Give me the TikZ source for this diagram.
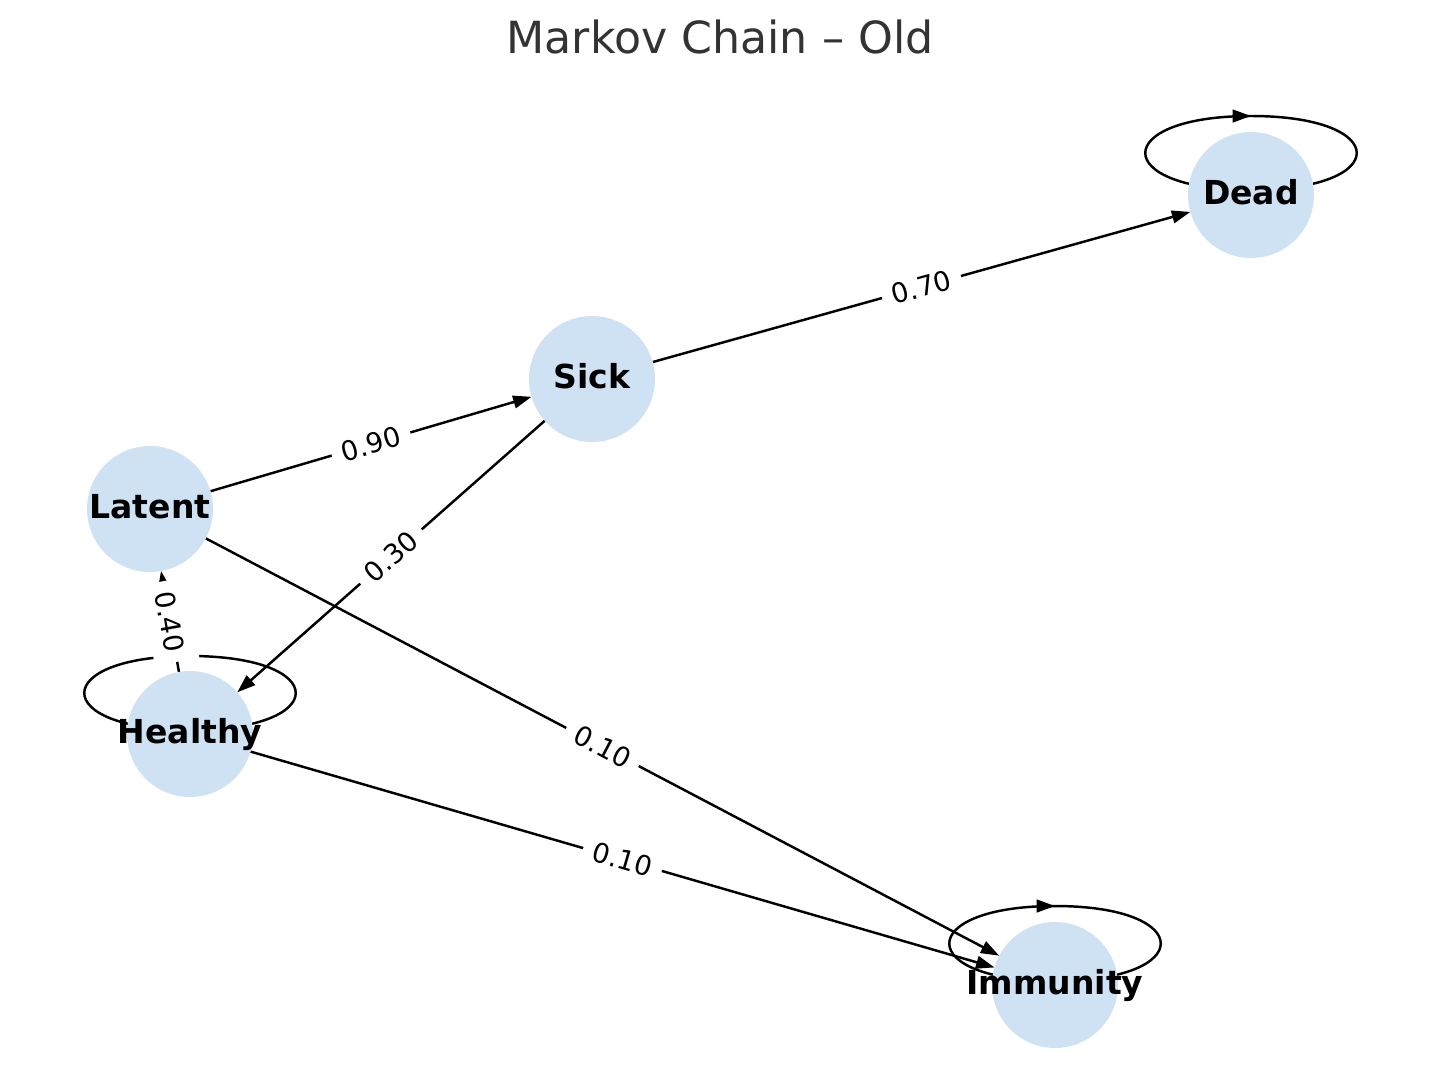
\documentclass[tikz,border=0pt]{standalone}
\usepackage{fontspec}
\setmainfont{DejaVu Sans}
\usetikzlibrary{arrows.meta,calc,decorations.markings}
\definecolor{azzurro}{RGB}{207,226,243}
\definecolor{grigio}{RGB}{51,51,51}
\pgfdeclarelayer{sotto}
\pgfsetlayers{sotto,main}
\tikzset{
>={Triangle[length=10.5pt,width=7.2pt]},
stato/.style={circle,inner sep=0pt,outer sep=0pt,minimum size=2.52cm,fill=azzurro,font=\fontsize{18.8}{22}\selectfont\bfseries,text height=14pt,text depth=3.3pt,execute at begin node=\hbox to 0pt\bgroup\hss,execute at end node=\hss\egroup},
freccia/.style={->,line width=1.4pt},
peso/.style={fill=white,sloped,midway,inner xsep=6pt,inner ysep=7pt,font=\fontsize{15.5}{18}\selectfont},
cappio/.style={line width=1.4pt,decoration={markings,mark=at position 0.5 with {\arrow{Triangle[length=10.5pt,width=7.2pt]}}},postaction={decorate}}}

\begin{document}
\begin{tikzpicture}[x=0.02cm,y=-0.02cm]
\useasboundingbox (0,0) rectangle (1439,1090);

\node (titolo) [anchor=base,text=grigio,font=\fontsize{25.2}{30}\selectfont] at (720,53) {Markov Chain – Old};

\node (dead) [stato] at (1251,195) {Dead};
\node (sick) [stato] at (592,379) {Sick};
\node (latent) [stato] at (150,509) {Latent};
\node (healthy) [stato] at (190,734) {Healthy};
\node (immunity) [stato] at (1055,985) {Immunity};

\begin{pgfonlayer}{sotto}
\draw[cappio] ($(dead.center)+(0,-5)$) .. controls +(-141,0) and +(-141,0) .. ($(dead.center)+(0,-79)$) .. controls +(141,0) and +(141,0) .. ($(dead.center)+(0,-5)$);
\draw[cappio] ($(healthy.center)+(0,-4)$) .. controls +(-141,0) and +(-141,0) .. ($(healthy.center)+(0,-78)$) .. controls +(141,0) and +(141,0) .. ($(healthy.center)+(0,-4)$);
\draw[cappio] ($(immunity.center)+(0,-4)$) .. controls +(-141,0) and +(-141,0) .. ($(immunity.center)+(0,-79)$) .. controls +(141,0) and +(141,0) .. ($(immunity.center)+(0,-4)$);

\path[freccia] (latent) edge node[peso] {0.90} (sick) (sick) edge node[peso] {0.70} (dead) (sick) edge node[peso] {0.30} (healthy) (latent) edge node[peso] {0.10} (immunity) (healthy) edge node[peso] {0.10} (immunity) (healthy) edge node[peso] {0.40} (latent);
\end{pgfonlayer}

\end{tikzpicture}
\end{document}
